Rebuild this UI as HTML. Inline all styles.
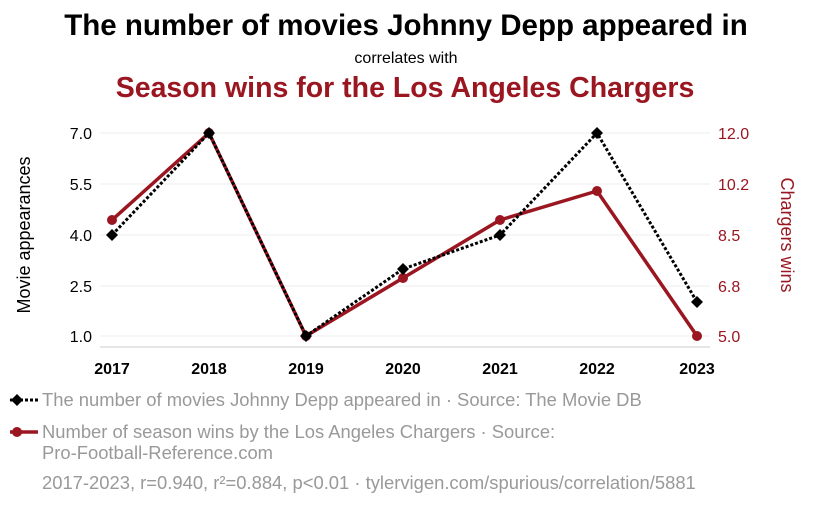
<!DOCTYPE html>
<html><head><meta charset="utf-8"><style>
body{margin:0;background:#fff;width:825px;height:500px;overflow:hidden;font-family:"Liberation Sans",sans-serif}
</style></head><body>
<svg width="825" height="500" xmlns="http://www.w3.org/2000/svg" font-family="Liberation Sans, sans-serif">
<text x="406" y="35" text-anchor="middle" font-size="29.5" font-weight="bold" fill="#000">The number of movies Johnny Depp appeared in</text>
<text x="406" y="63" text-anchor="middle" font-size="16" fill="#000">correlates with</text>
<text x="405" y="97" text-anchor="middle" font-size="28.5" font-weight="bold" fill="#9a1620">Season wins for the Los Angeles Chargers</text>
<g stroke="#eee" stroke-width="1">
<line x1="100" y1="133" x2="710" y2="133"/><line x1="100" y1="184" x2="710" y2="184"/>
<line x1="100" y1="235" x2="710" y2="235"/><line x1="100" y1="286" x2="710" y2="286"/>
<line x1="100" y1="336" x2="710" y2="336"/>
</g>
<line x1="100" y1="347" x2="710" y2="347" stroke="#ccc"/>
<g font-size="16" fill="#000" text-anchor="end">
<text x="92" y="139">7.0</text><text x="92" y="190">5.5</text><text x="92" y="241">4.0</text><text x="92" y="292">2.5</text><text x="92" y="342">1.0</text>
</g>
<g font-size="16" fill="#9a1620">
<text x="718" y="139">12.0</text><text x="718" y="190">10.2</text><text x="718" y="241">8.5</text><text x="718" y="292">6.8</text><text x="718" y="342">5.0</text>
</g>
<g font-size="16" font-weight="bold" text-anchor="middle">
<text x="112" y="374">2017</text><text x="209" y="374">2018</text><text x="306" y="374">2019</text><text x="403" y="374">2020</text><text x="500" y="374">2021</text><text x="597" y="374">2022</text><text x="697" y="374">2023</text>
</g>
<text transform="translate(30,235) rotate(-90)" text-anchor="middle" font-size="18">Movie appearances</text>
<text transform="translate(781,235) rotate(90)" text-anchor="middle" font-size="18" fill="#9a1620">Chargers wins</text>
<polyline points="112,220 209,133 306,336 403,278 500,220 597,191 697,336" fill="none" stroke="#9a1620" stroke-width="3.5"/>
<g fill="#9a1620"><circle cx="112" cy="220" r="5"/><circle cx="209" cy="133" r="5"/><circle cx="306" cy="336" r="5"/><circle cx="403" cy="278" r="5"/><circle cx="500" cy="220" r="5"/><circle cx="597" cy="191" r="5"/><circle cx="697" cy="336" r="5"/></g>
<polyline points="112,235 209,133 306,336 403,269 500,235 597,133 697,302" fill="none" stroke="#000" stroke-width="3" stroke-dasharray="3,2"/>
<g fill="#000">
<path d="M112,229 l6,6 -6,6 -6,-6z"/><path d="M209,127 l6,6 -6,6 -6,-6z"/><path d="M306,330 l6,6 -6,6 -6,-6z"/><path d="M403,263 l6,6 -6,6 -6,-6z"/><path d="M500,229 l6,6 -6,6 -6,-6z"/><path d="M597,127 l6,6 -6,6 -6,-6z"/><path d="M697,296 l6,6 -6,6 -6,-6z"/>
</g>
<line x1="10" y1="400" x2="38" y2="400" stroke="#000" stroke-width="3" stroke-dasharray="3,2"/>
<path d="M17,394 l6,6 -6,6 -6,-6z" fill="#000"/>
<text x="42" y="406" font-size="18.4" fill="#999">The number of movies Johnny Depp appeared in · Source: The Movie DB</text>
<line x1="10" y1="432" x2="38" y2="432" stroke="#9a1620" stroke-width="3.5"/>
<circle cx="17" cy="432" r="5" fill="#9a1620"/>
<text x="42" y="438" font-size="18.4" fill="#999">Number of season wins by the Los Angeles Chargers · Source:</text>
<text x="42" y="459" font-size="18.4" fill="#999">Pro-Football-Reference.com</text>
<text x="42" y="489" font-size="18.4" fill="#999">2017-2023, r=0.940, r²=0.884, p&lt;0.01 · tylervigen.com/spurious/correlation/5881</text>
</svg>
</body></html>
